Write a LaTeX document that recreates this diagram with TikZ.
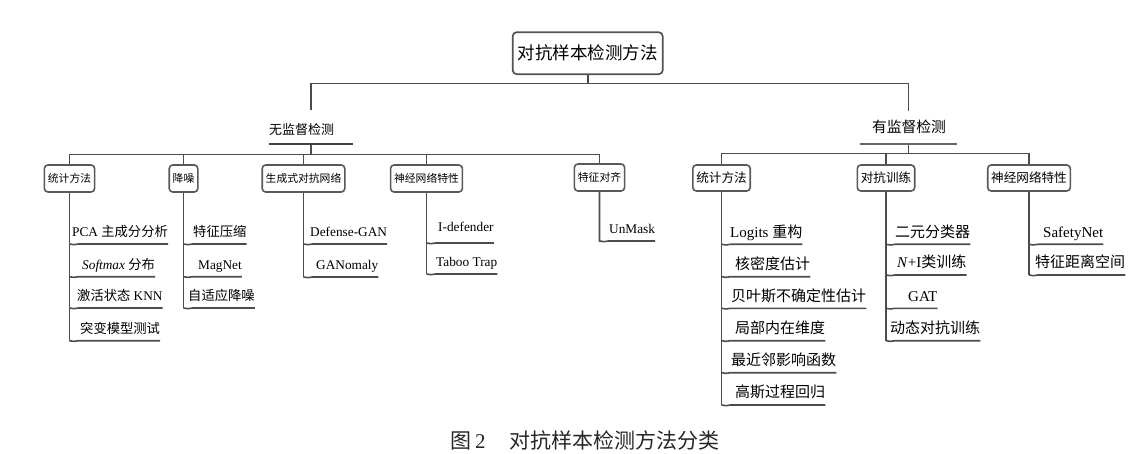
\documentclass[tikz,border=0pt]{standalone}
\usepackage{fontspec}
\setmainfont{Liberation Serif}
\newfontfamily\cjk{Noto Sans CJK SC}
\begin{document}
\begin{tikzpicture}[x=1pt,y=-1pt,
  link/.style={draw=black!70, line width=1.6pt},
  wave/.style={to path={.. controls +(3,1.8) and +(-3,0) .. ++(9,0) -- (\tikztotarget)}},
  root/.style={draw=black!68, line width=1.7pt, rounded corners=4pt, minimum width=150pt, minimum height=42pt, font=\cjk\fontsize{17.5}{20}\selectfont},
  box/.style={draw=black!65, line width=1.6pt, rounded corners=3.5pt, inner xsep=3.5pt, inner ysep=0pt},
  lbox/.style={box, minimum height=27pt, font=\cjk\fontsize{10.8}{12}\selectfont},
  rbox/.style={box, minimum height=26pt, font=\cjk\fontsize{12.6}{14}\selectfont},
  bar/.style={fill=black!75, inner sep=0pt, minimum height=2.4pt},
  leaf/.style={anchor=south west, inner sep=0pt, text depth=7pt, font=\fontsize{13.3}{16}\selectfont},
  rleaf/.style={leaf, font=\fontsize{15}{18}\selectfont}]
\useasboundingbox (0,0) rectangle (1145,454);

% root and the two groups
\node[root] (root) at (587.7,53.2) {对抗样本检测方法};
\node[font=\cjk\fontsize{13}{15}\selectfont, inner sep=0pt] (unsup) at (301.5,130) {无监督检测};
\node[bar, minimum width=84pt] (ubar) at (311,144) {};
\node[font=\cjk\fontsize{14.8}{17}\selectfont, inner sep=0pt] (sup) at (909,127) {有监督检测};
\node[bar, minimum width=97pt, fill=black!60] (sbar) at (908.5,144) {};
\coordinate (uj) at (311,83.5);
\coordinate (sj) at (908.5,83.5);
\coordinate (ut) at (311,110.5);
\coordinate (st) at (908.5,111.5);
\draw[link] (root) -- (root |- uj);
\draw[link] (ut) -- (uj) -- (sj) -- (st);

% unsupervised
\node[lbox] (b1) at (69.5,178.5) {统计方法};
\node[lbox] (b2) at (183.5,178.5) {降噪};
\node[lbox] (b3) at (303.5,178.5) {生成式对抗网络};
\node[lbox] (b4) at (426.5,178.5) {神经网络特性};
\node[lbox] (b5) at (599.5,177.5) {特征对齐};
\coordinate (ul) at (311,154.5);
\draw[link] (ubar) -- (ul);
\foreach \b in {b1,b2,b3,b4,b5} \draw[link] (ul) -| (\b.north);

\node[leaf] (p1) at (72,244) {PCA {\cjk 主成分分析}};
\node[leaf] (p2) at (82,276.7) {\textit{Softmax} {\cjk 分布}};
\node[leaf] (p3) at (77,308) {{\cjk 激活状态} KNN};
\node[leaf] (p4) at (80,340.7) {\cjk 突变模型测试};
\draw[link] (b1) -- (b1.south |- p4.south);
\foreach \p in {p1,p2,p3,p4} \draw[link] (b1.south |- \p.south) to[wave] (\p.south east);

\node[leaf] (q1) at (193,244) {\cjk 特征压缩};
\node[leaf] (q2) at (198,276.7) {MagNet};
\node[leaf] (q3) at (188,308) {\cjk 自适应降噪};
\draw[link] (b2) -- (b2.south |- q3.south);
\foreach \p in {q1,q2,q3} \draw[link] (b2.south |- \p.south) to[wave] (\p.south east);

\node[leaf] (r1) at (310,244) {Defense-GAN};
\node[leaf] (r2) at (316,277) {GANomaly};
\draw[link] (b3) -- (b3.south |- r2.south);
\foreach \p in {r1,r2} \draw[link] (b3.south |- \p.south) to[wave] (\p.south east);

\node[leaf, text depth=11pt] (s1) at (438,243) {I-defender};
\node[leaf] (s2) at (436,274) {Taboo Trap};
\draw[link] (b4) -- (b4.south |- s2.south);
\foreach \p in {s1,s2} \draw[link] (b4.south |- \p.south) to[wave] (\p.south east);

\node[leaf] (t1) at (609,241) {UnMask};
\draw[link] (b5) -- (b5.south |- t1.south) to[wave] (t1.south east);

% supervised
\node[rbox] (c1) at (721.5,178) {统计方法};
\node[rbox] (c2) at (886,178) {对抗训练};
\node[rbox] (c3) at (1029,178) {神经网络特性};
\coordinate (sl) at (908.5,153.5);
\draw[link] (sbar) -- (sl);
\foreach \b in {c1,c2,c3} \draw[link] (sl) -| (\b.north);

\node[rleaf] (m1) at (730,244.3) {Logits {\cjk 重构}};
\node[rleaf] (m2) at (735,276.7) {\cjk 核密度估计};
\node[rleaf] (m3) at (731,308.3) {\cjk 贝叶斯不确定性估计};
\node[rleaf] (m4) at (735,340.7) {\cjk 局部内在维度};
\node[rleaf] (m5) at (731,372.7) {\cjk 最近邻影响函数};
\node[rleaf] (m6) at (735,405) {\cjk 高斯过程回归};
\draw[link] (c1) -- (c1.south |- m6.south);
\foreach \p in {m1,m2,m3,m4,m5,m6} \draw[link] (c1.south |- \p.south) to[wave] (\p.south east);

\node[rleaf] (n1) at (895,244.3) {\cjk 二元分类器};
\node[rleaf] (n2) at (897,275) {\textit{N}+I{\cjk 类训练}};
\node[rleaf] (n3) at (908,308.3) {GAT};
\node[rleaf] (n4) at (890,340.7) {\cjk 动态对抗训练};
\draw[link] (c2) -- (c2.south |- n4.south);
\foreach \p in {n1,n2,n3,n4} \draw[link] (c2.south |- \p.south) to[wave] (\p.south east);

\node[rleaf] (k1) at (1043,244.3) {SafetyNet};
\node[rleaf] (k2) at (1035,275) {\cjk 特征距离空间};
\draw[link] (c3) -- (c3.south |- k2.south);
\foreach \p in {k1,k2} \draw[link] (c3.south |- \p.south) to[wave] (\p.south east);

% caption
\node[font=\fontsize{21}{24}\selectfont, text=black!85] (cap) at (585,440) {{\cjk 图}\,2\hspace{24pt}{\cjk 对抗样本检测方法分类}};
\end{tikzpicture}
\end{document}
